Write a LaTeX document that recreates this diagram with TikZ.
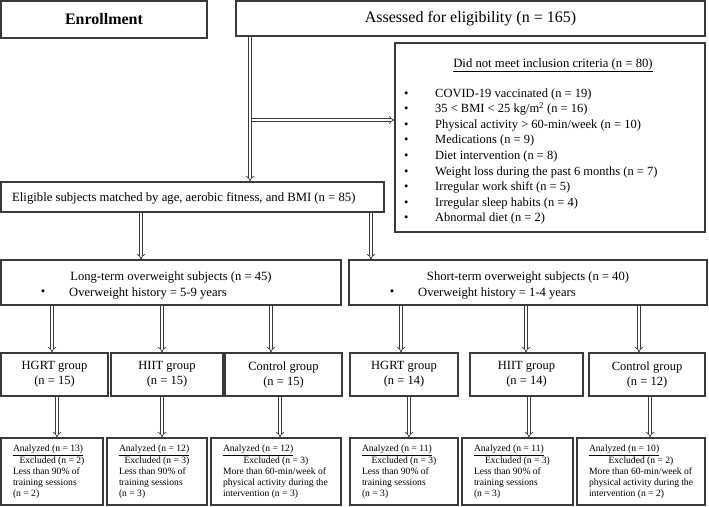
\documentclass[tikz,border=0pt]{standalone}
\usepackage{fontspec}
\setmainfont{Liberation Serif}
\usetikzlibrary{arrows.meta}
\definecolor{bd}{HTML}{3A3A3A}
\tikzset{
  box/.style={draw=bd, line width=1.1pt, inner sep=0pt, anchor=center},
  dar/.style={draw=bd, double=white, double distance=2.2pt, line width=0.7pt, -{Implies}},
  grp/.style={box, align=center, font=\fontsize{12.5}{15}\selectfont},
  res/.style={box, font=\fontsize{9.6}{11}\selectfont},
  mid/.style={font=\fontsize{12.6}{15}\selectfont},
}
\newcommand\mybox[6][]{\node[box,#1,minimum width={#5-#3},minimum height={#6-#4}] (#2) at ({(#3+#5)/2},{(#4+#6)/2})}
\newcommand\restext[6]{%
  \begin{tabular}{@{}p{#1}@{}}
  \underline{Analyzed (n = #2)}\\
  \makebox[#1][c]{Excluded (n = #3)}\\
  #4\\ #5\\ #6
  \end{tabular}}
\begin{document}
\begin{tikzpicture}[x=1pt,y=-1pt]
\useasboundingbox (0,0) rectangle (709,506);
% top
\mybox[font=\fontsize{16}{18}\selectfont\bfseries]{enr}{1}{1}{207}{38} {Enrollment};
\mybox[font=\fontsize{16}{18}\selectfont]{ass}{236}{1}{705}{36} {Assessed for eligibility (n = 165)};
\mybox{excl}{395}{43}{705}{232} {};
\node[font=\fontsize{12.7}{15}\selectfont] (exh) at (553,65) {\underline{Did not meet inclusion criteria (n = 80)}};
\node[anchor=north west, inner sep=0pt, font=\fontsize{12.5}{15.6}\selectfont] (exlist) at (404,86)
 {\begin{tabular}{@{}p{31pt}@{}l@{}}
 \textbullet & COVID-19 vaccinated (n = 19)\\
 \textbullet & 35 < BMI < 25 kg/m\textsuperscript{2} (n = 16)\\
 \textbullet & Physical activity > 60-min/week (n = 10)\\
 \textbullet & Medications (n = 9)\\
 \textbullet & Diet intervention (n = 8)\\
 \textbullet & Weight loss during the past 6 months (n = 7)\\
 \textbullet & Irregular work shift (n = 5)\\
 \textbullet & Irregular sleep habits (n = 4)\\
 \textbullet & Abnormal diet (n = 2)
 \end{tabular}};
\mybox{elig}{1}{182}{384}{212} {};
\node[anchor=west, inner sep=0pt, font=\fontsize{12.7}{15}\selectfont] (elt) at (12,198) {Eligible subjects matched by age, aerobic fitness, and BMI (n = 85)};
% second level
\mybox{long}{1}{260}{341}{305} {};
\node[mid] (lt1) at (171,277) {Long-term overweight subjects (n = 45)};
\node[mid] (lb) at (43,293) {\textbullet};
\node[mid, anchor=west, inner sep=0pt] (lt2) at (69,293) {Overweight history = 5-9 years};
\mybox{short}{349}{260}{707}{305} {};
\node[mid] (st1) at (528,277) {Short-term overweight subjects (n = 40)};
\node[mid] (sb) at (392,293) {\textbullet};
\node[mid, anchor=west, inner sep=0pt] (st2) at (418,293) {Overweight history = 1-4 years};
% groups
\mybox[grp]{g1}{1}{353}{108}{396} {HGRT group\\(n = 15)};
\mybox[grp]{g2}{111}{353}{223}{396} {HIIT group\\(n = 15)};
\mybox[grp]{g3}{225}{353}{342}{396} {Control group\\(n = 15)};
\mybox[grp]{g4}{350}{353}{458}{396} {HGRT group\\(n = 14)};
\mybox[grp]{g5}{470}{353}{583}{396} {HIIT group\\(n = 14)};
\mybox[grp]{g6}{589}{353}{705}{396} {Control group\\(n = 12)};
% results
\mybox[res]{b1}{1}{438}{103}{505} {\restext{78pt}{13}{2}{Less than 90\% of}{training sessions}{(n = 2)}};
\mybox[res]{b2}{107}{438}{207}{505} {\restext{76pt}{12}{3}{Less than 90\% of}{training sessions}{(n = 3)}};
\mybox[res]{b3}{211}{438}{341}{505} {\restext{106pt}{12}{3}{More than 60-min/week of}{physical activity during the}{intervention (n = 3)}};
\mybox[res]{b4}{350}{438}{458}{505} {\restext{84pt}{11}{3}{Less than 90\% of}{training sessions}{(n = 3)}};
\mybox[res]{b5}{462}{438}{573}{505} {\restext{87pt}{11}{3}{Less than 90\% of}{training sessions}{(n = 3)}};
\mybox[res]{b6}{577}{438}{705}{505} {\restext{104pt}{10}{2}{More than 60-min/week of}{physical activity during the}{intervention (n = 2)}};
% connectors
\draw[dar] (ass.south -| 250,0) -- (elig.north -| 250,0);
\coordinate (br) at (251.8,120);
\draw[dar] (br) -- (excl.west |- br);
\draw[dar] (elig.south -| 141,0) -- (long.north -| 141,0);
\draw[dar] (elig.south -| 371,0) -- (short.north -| 371,0);
\draw[dar] (long.south -| 52,0) -- (g1.north -| 52,0);
\draw[dar] (long.south -| 162,0) -- (g2.north -| 162,0);
\draw[dar] (long.south -| 271,0) -- (g3.north -| 271,0);
\draw[dar] (short.south -| 401,0) -- (g4.north -| 401,0);
\draw[dar] (short.south -| 526,0) -- (g5.north -| 526,0);
\draw[dar] (short.south -| 639,0) -- (g6.north -| 639,0);
\draw[dar] (g1.south -| 57,0) -- (b1.north -| 57,0);
\draw[dar] (g2.south -| 162,0) -- (b2.north -| 162,0);
\draw[dar] (g3.south -| 280,0) -- (b3.north -| 280,0);
\draw[dar] (g4.south -| 409,0) -- (b4.north -| 409,0);
\draw[dar] (g5.south -| 529,0) -- (b5.north -| 529,0);
\draw[dar] (g6.south -| 650,0) -- (b6.north -| 650,0);
\end{tikzpicture}
\end{document}
